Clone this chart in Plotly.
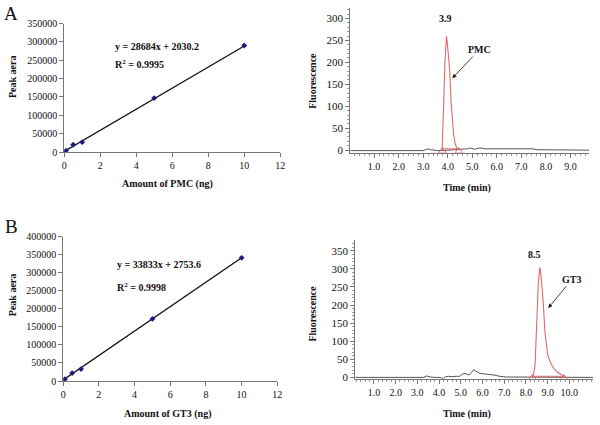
import plotly.graph_objects as go

# ---------------- data ----------------
# Calibration curves
amt_pmc = [0.1, 0.5, 1.0, 5.0, 10.0]
area_pmc = [4000, 20000, 27000, 147000, 290000]
amt_gt3 = [0.1, 0.5, 1.0, 5.0, 10.0]
area_gt3 = [5000, 22000, 33000, 172000, 341000]
fit_pmc = (28684, 2030.2)
fit_gt3 = (33833, 2753.6)
fit_x = [0.0, 10.0]

# Chromatogram A (PMC)
a_base_t = [0.03, 1.0, 2.0, 3.0, 3.1, 3.2, 3.3, 3.4, 3.6, 3.78, 4.45, 4.6, 4.8, 4.9, 5.0,
            5.1, 5.2, 5.35, 5.5, 5.7, 5.9, 6.0, 6.2, 7.0, 7.5, 7.6, 8.0, 8.7, 8.8, 9.76]
a_base_v = [-1, -1, -1, -1, 1, 3, 1, 0, -1, -1, 1, 2, 3, 5, 3,
            2, 4, 5, 3, 3, 3, 4, 3, 3, 3, 1, 1, 1, 0, 0]
a_peak_t = [3.77, 3.80, 3.84, 3.88, 3.92, 3.95, 3.99, 4.03, 4.08, 4.14, 4.19, 4.24, 4.30, 4.37, 4.45]
a_peak_v = [0, 35, 110, 195, 245, 260, 240, 210, 182, 108, 65, 35, 15, 5, 0]
a_marks_t = [3.78, 4.45]
a_ticks = [1.0, 2.0, 3.0, 4.0, 5.0, 6.0, 7.0, 8.0, 9.0]

# Chromatogram B (GT3)
b_base_t = [0.14, 1.0, 2.0, 3.0, 3.3, 3.42, 3.6, 3.8, 4.0, 4.21, 4.3, 4.45, 4.6, 4.8, 4.95,
            5.1, 5.2, 5.3, 5.4, 5.5, 5.6, 5.7, 5.88, 6.0, 6.18, 6.48, 6.8, 7.09, 7.5, 8.0,
            8.3, 9.8, 10.2, 11.09]
b_base_v = [0, 0, 0, 0, 0, 4, 1, 0, 0, -3, 2, 3, 2, 3, 3,
            10, 11, 8, 7, 14, 22, 17, 11, 10, 9, 7, 3, 1, 1, 1,
            1, 1, 0, 0]
b_peak_t = [8.28, 8.35, 8.42, 8.45, 8.51, 8.57, 8.64, 8.70, 8.79, 8.88, 9.01, 9.15, 9.29, 9.45, 9.67, 9.8]
b_peak_v = [0, 10, 33, 78, 168, 260, 304, 280, 213, 123, 60, 38, 24, 14, 6, 0]
b_marks_t = [8.30, 9.75]
b_ticks = [1.0, 2.0, 3.0, 4.0, 5.0, 6.0, 7.0, 8.0, 9.0, 10.0]

FONT = "Liberation Serif"
INK = "#111111"
RED = "#e06a6a"
GREY = "#555555"
NAVY = "#1a1a80"

fig = go.Figure()

# ---- calibration A
fig.add_trace(go.Scatter(x=fit_x, y=[fit_pmc[0] * x + fit_pmc[1] for x in fit_x], mode="lines",
                         line=dict(color=INK, width=1.3), xaxis="x", yaxis="y", showlegend=False))
fig.add_trace(go.Scatter(x=amt_pmc, y=area_pmc, mode="markers",
                         marker=dict(symbol="diamond", size=4.5, color=NAVY), xaxis="x", yaxis="y",
                         showlegend=False))
# ---- chromatogram A
fig.add_trace(go.Scatter(x=a_base_t, y=a_base_v, mode="lines", line=dict(color=GREY, width=1),
                         xaxis="x2", yaxis="y2", showlegend=False))
fig.add_trace(go.Scatter(x=a_marks_t, y=[3, 3], mode="lines", line=dict(color=RED, width=1),
                         xaxis="x2", yaxis="y2", showlegend=False))
fig.add_trace(go.Scatter(x=a_peak_t, y=a_peak_v, mode="lines", line=dict(color=RED, width=1.1),
                         xaxis="x2", yaxis="y2", showlegend=False))
fig.add_trace(go.Scatter(x=a_marks_t, y=[-2.5, -2.5], mode="markers",
                         marker=dict(symbol="triangle-up-open", size=7, color=RED, line=dict(width=1)),
                         xaxis="x2", yaxis="y2", showlegend=False))

# ---- calibration B
fig.add_trace(go.Scatter(x=fit_x, y=[fit_gt3[0] * x + fit_gt3[1] for x in fit_x], mode="lines",
                         line=dict(color=INK, width=1.3), xaxis="x3", yaxis="y3", showlegend=False))
fig.add_trace(go.Scatter(x=amt_gt3, y=area_gt3, mode="markers",
                         marker=dict(symbol="diamond", size=4.5, color=NAVY), xaxis="x3", yaxis="y3",
                         showlegend=False))
# ---- chromatogram B
fig.add_trace(go.Scatter(x=b_base_t, y=b_base_v, mode="lines", line=dict(color=GREY, width=1),
                         xaxis="x4", yaxis="y4", showlegend=False))
fig.add_trace(go.Scatter(x=b_marks_t, y=[3, 3], mode="lines", line=dict(color=RED, width=1),
                         xaxis="x4", yaxis="y4", showlegend=False))
fig.add_trace(go.Scatter(x=b_peak_t, y=b_peak_v, mode="lines", line=dict(color=RED, width=1.1),
                         xaxis="x4", yaxis="y4", showlegend=False))
fig.add_trace(go.Scatter(x=b_marks_t, y=[-2, -2], mode="markers",
                         marker=dict(symbol="triangle-up-open", size=7, color=RED, line=dict(width=1)),
                         xaxis="x4", yaxis="y4", showlegend=False))

W, H = 600, 425
def dx(a, b):
    return [a / W, b / W]
def dy(top, bottom):
    return [1 - bottom / H, 1 - top / H]

tickfont = dict(family=FONT, size=10, color=INK)
cal_ax = dict(showgrid=False, zeroline=False, showline=True, linecolor="#777777", linewidth=1,
              ticks="outside", ticklen=4, tickcolor="#777777", tickfont=tickfont)
chrom_x = dict(showgrid=False, zeroline=False, showline=True, linecolor="#777777", linewidth=1,
               ticks="outside", ticklen=4, tickcolor="#777777", tickfont=tickfont,
               tickmode="array", tickformat=".1f",
               minor=dict(ticks="outside", ticklen=2, tick0=0, dtick=0.2, tickcolor="#999999"))
chrom_y = dict(showgrid=False, zeroline=False, showline=True, linecolor="#777777", linewidth=1,
               ticks="outside", ticklen=4, tickcolor="#777777", tickfont=dict(family=FONT, size=11, color=INK),
               tick0=0, dtick=50,
               minor=dict(ticks="outside", ticklen=2, tick0=0, dtick=10, tickcolor="#999999"))

fig.update_layout(
    width=W, height=H, margin=dict(l=0, r=0, t=0, b=0),
    paper_bgcolor="white", plot_bgcolor="white",
    font=dict(family=FONT, color=INK),
    xaxis=dict(cal_ax, domain=dx(62, 281), range=[0, 12], dtick=2, anchor="y"),
    yaxis=dict(cal_ax, domain=dy(19, 151), range=[0, 350000], dtick=50000, tickformat="d", anchor="x"),
    xaxis2=dict(chrom_x, domain=dx(352, 594), range=[0.03, 9.76], tickvals=a_ticks, anchor="y2"),
    yaxis2=dict(chrom_y, domain=dy(3, 151.7), range=[-6, 324], anchor="x2"),
    xaxis3=dict(cal_ax, domain=dx(61, 278), range=[0, 12], dtick=2, anchor="y3"),
    yaxis3=dict(cal_ax, domain=dy(237.7, 386), range=[0, 400000], dtick=50000, tickformat="d", anchor="x3"),
    xaxis4=dict(chrom_x, domain=dx(357, 598), range=[0.14, 11.09], tickvals=b_ticks, anchor="y4"),
    yaxis4=dict(chrom_y, domain=dy(241.7, 383.7), range=[-3.8, 378.6], anchor="x4"),
)

bold = lambda s: "<b>" + s + "</b>"
tf = dict(family=FONT, size=10, color=INK)
C = dict(xanchor="center", yanchor="middle", showarrow=False)
ann = []
# panel letters
ann.append(dict(C, text="A", x=8.5 / W, y=1 - 9 / H, xref="paper", yref="paper",
                font=dict(family=FONT, size=19, color=INK)))
ann.append(dict(C, text="B", x=8.5 / W, y=1 - 227 / H, xref="paper", yref="paper",
                font=dict(family=FONT, size=19, color=INK)))
# axis titles
for txt, x, y, rot in [
    ("Peak aera", 9, 73, -90), ("Amount of PMC (ng)", 167, 184, 0),
    ("Fluorescence", 314, 78, -90), ("Time (min)", 470, 188, 0),
    ("Peak aera", 9, 297, -90), ("Amount of GT3 (ng)", 167, 420, 0),
    ("Fluorescence", 314, 317, -90), ("Time (min)", 470, 420, 0),
]:
    ann.append(dict(C, text=bold(txt), x=x / W, y=1 - y / H, xref="paper", yref="paper",
                    textangle=rot, font=tf))
# equations
L = dict(xanchor="left", yanchor="middle", showarrow=False)
ann.append(dict(L, text=bold("y = 28684x + 2030.2"), x=2.72, y=288000, xref="x", yref="y", font=tf))
ann.append(dict(L, text=bold("R<sup>2</sup> = 0.9995"), x=2.72, y=239000, xref="x", yref="y", font=tf))
ann.append(dict(L, text=bold("y = 33833x + 2753.6"), x=2.89, y=322000, xref="x3", yref="y3", font=tf))
ann.append(dict(L, text=bold("R<sup>2</sup> = 0.9998"), x=2.89, y=261000, xref="x3", yref="y3", font=tf))
# peak labels with arrows (text placed at ax/ay, arrow head at x/y)
ann.append(dict(C, text=bold("3.9"), x=3.9, y=300, xref="x2", yref="y2", font=tf))
ann.append(dict(text=bold("PMC"), x=4.19, y=164, ax=5.29, ay=229, xref="x2", yref="y2",
                axref="x2", ayref="y2", showarrow=True, arrowhead=2, arrowsize=1,
                arrowwidth=0.8, arrowcolor=INK, standoff=0, font=tf))
ann.append(dict(C, text=bold("8.5"), x=8.38, y=340, xref="x4", yref="y4", font=tf))
ann.append(dict(text=bold("GT3"), x=9.03, y=192, ax=10.12, ay=271, xref="x4", yref="y4",
                axref="x4", ayref="y4", showarrow=True, arrowhead=2, arrowsize=1,
                arrowwidth=0.8, arrowcolor=INK, standoff=0, font=tf))
fig.update_layout(annotations=ann)

fig.write_html("out.html", config={"displayModeBar": False},
               post_script="document.body.style.margin='0px';document.body.style.overflow='hidden';")
